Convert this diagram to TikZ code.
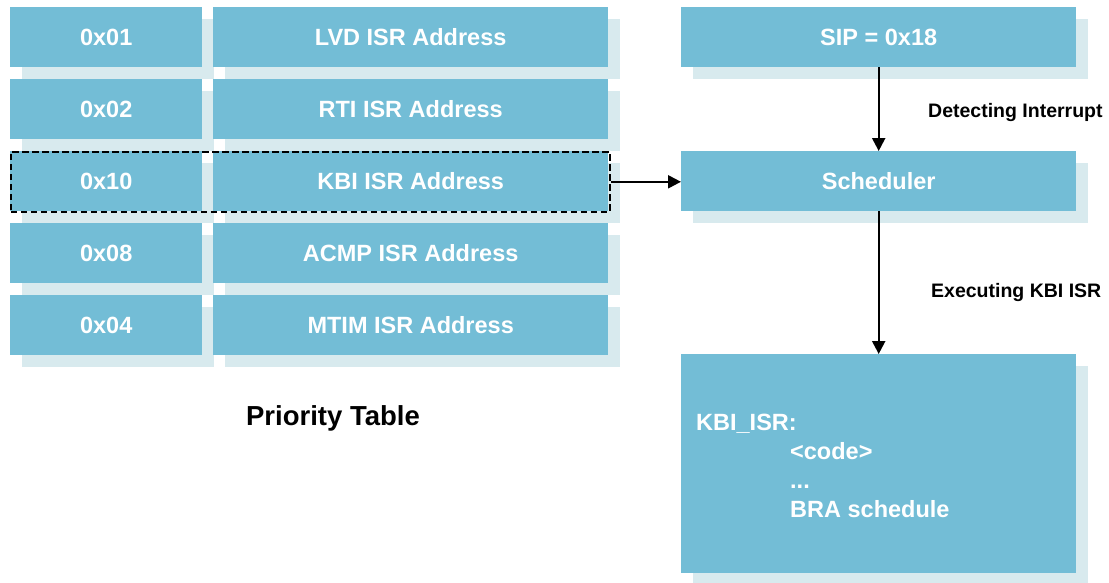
\documentclass[tikz,border=0pt]{standalone}
\usepackage{fontspec}
\setmainfont{Liberation Sans}
\usetikzlibrary{arrows.meta,shadows}
\definecolor{cellblue}{RGB}{115,189,214}
\definecolor{cellshade}{RGB}{216,234,238}
\tikzset{
  cell/.style={fill=cellblue, draw=none, text=white, inner sep=0pt,
    anchor=north west, font=\bfseries\fontsize{23.5}{28}\selectfont,
    drop shadow={shadow xshift=12pt, shadow yshift=-12pt, fill=cellshade, opacity=1}},
  isrtext/.style={text=white, inner sep=0pt, anchor=base west,
    font=\bfseries\fontsize{23.5}{28}\selectfont},
  lbl/.style={inner sep=0pt, anchor=base west, font=\bfseries\fontsize{19.5}{23}\selectfont},
  conn/.style={line width=2.2pt, -{Triangle[length=13pt,width=13pt]}},
  selbox/.style={draw, line width=2.6pt, dash pattern=on 6.5pt off 3.5pt,
    inner sep=0pt, anchor=north west, minimum width=599pt, minimum height=60pt}
}
\begin{document}
\begin{tikzpicture}[x=1pt,y=-1pt]
  \clip (0,0) rectangle (1109,582);
  % priority table: vector number and handler address
  \foreach \i/\code/\name in {0/0x01/LVD,1/0x02/RTI,2/0x10/KBI,3/0x08/ACMP,4/0x04/MTIM}{
    \node[cell, minimum width=192pt, minimum height=60pt] (p\i) at (10,{7+72*\i}) {\code};
    \node[cell, minimum width=395pt, minimum height=60pt] (a\i) at (213,{7+72*\i}) {\name{} ISR Address};
  }
  \node[selbox] (sel) at (9.5,150.5) {};
  \node[inner sep=0pt, anchor=base, font=\bfseries\fontsize{27.5}{32}\selectfont] (title) at (333,425) {Priority Table};

  % scheduler flow
  \node[cell, minimum width=395pt, minimum height=60pt] (sip) at (681,7) {SIP = 0x18};
  \node[cell, minimum width=395pt, minimum height=60pt] (sched) at (681,151) {Scheduler};
  \node[cell, minimum width=395pt, minimum height=219pt] (isr) at (681,354) {};
  \node[isrtext] (t1) at (696,430) {KBI\_ISR:};
  \node[isrtext] (t2) at (790,459) {<code>};
  \node[isrtext] (t3) at (790,488) {...};
  \node[isrtext] (t4) at (790,517) {BRA schedule};

  \draw[conn] (sel.east) -- (sel.east -| sched.west);
  \draw[conn] (sip) -- (sched);
  \draw[conn] (sched) -- (isr);
  \node[lbl] (l1) at (928,117) {Detecting Interrupt};
  \node[lbl] (l2) at (931,297) {Executing KBI ISR};
\end{tikzpicture}
\end{document}
